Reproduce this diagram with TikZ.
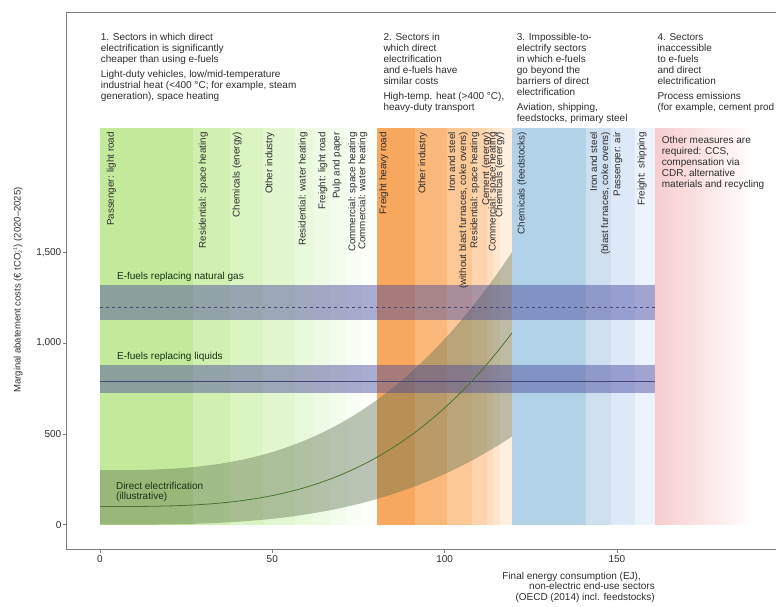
\documentclass[tikz,border=0pt]{standalone}
\usepackage{fontspec}
\setmainfont{Liberation Sans}
\definecolor{gA}{RGB}{194,234,154}
\definecolor{gB}{RGB}{208,240,178}
\definecolor{gC}{RGB}{218,244,194}
\definecolor{gD}{RGB}{226,247,207}
\definecolor{gE}{RGB}{233,249,219}
\definecolor{gF}{RGB}{239,250,229}
\definecolor{gG}{RGB}{244,252,237}
\definecolor{gH}{RGB}{248,253,245}
\definecolor{gI}{RGB}{252,254,250}
\definecolor{oA}{RGB}{248,168,94}
\definecolor{oB}{RGB}{250,185,122}
\definecolor{oC}{RGB}{252,200,150}
\definecolor{oD}{RGB}{253,212,173}
\definecolor{oE}{RGB}{254,221,190}
\definecolor{oF}{RGB}{254,230,206}
\definecolor{oG}{RGB}{255,239,222}
\definecolor{bA}{RGB}{178,211,231}
\definecolor{bB}{RGB}{206,223,240}
\definecolor{bC}{RGB}{221,233,248}
\definecolor{bD}{RGB}{237,243,252}
\definecolor{rA}{RGB}{248,204,206}
\definecolor{bandblue}{RGB}{70,70,155}
\definecolor{bandline}{RGB}{70,70,120}
\definecolor{elecgray}{RGB}{90,110,75}
\definecolor{curvegreen}{RGB}{75,115,50}
\definecolor{txtgray}{RGB}{45,45,45}
\definecolor{axgray}{RGB}{125,125,125}
\tikzset{
  axis/.style={draw=axgray,line width=0.8pt},
  head/.style={anchor=north west,align=left,inner sep=0pt,text=txtgray,font=\fontsize{10}{11}\selectfont},
  sector/.style={rotate=90,anchor=east,align=right,inner sep=0pt,text=txtgray,font=\fontsize{9.8}{11}\selectfont},
  curvelabel/.style={anchor=west,align=left,inner sep=0pt,text=txtgray!80!green!60!black,font=\fontsize{10}{10.5}\selectfont},
  efuelband/.style={fill=bandblue,fill opacity=0.45},
  efuelline/.style={draw=bandline,line width=0.6pt},
  elecband/.style={fill=elecgray,fill opacity=0.4},
  eleccurve/.style={draw=curvegreen,line width=0.8pt}
}
\begin{document}
\begin{tikzpicture}[x=1pt,y=1pt,font=\fontsize{10}{11}\selectfont]
\useasboundingbox (0,0) rectangle (776,606);
\draw[axis] (776,593.3) -- (66.7,593.3) -- (66.7,57) -- (776,57);
\node[head] (grp1) at (100.7,573) {1. Sectors in which direct\\electrification is significantly\\cheaper than using e-fuels\\[4pt]Light-duty vehicles, low/mid-temperature\\industrial heat (<400 °C; for example, steam\\generation), space heating};
\node[head] (grp2) at (383.3,573) {2. Sectors in\\which direct\\electrification\\and e-fuels have\\similar costs\\[4pt]High-temp. heat (>400 °C),\\heavy-duty transport};
\node[head] (grp3) at (516.7,573) {3. Impossible-to-\\electrify sectors\\in which e-fuels\\go beyond the\\barriers of direct\\electrification\\[4pt]Aviation, shipping,\\feedstocks, primary steel};
\node[head] (grp4) at (657.3,573) {4. Sectors\\inaccessible\\to e-fuels\\and direct\\electrification\\[4pt]Process emissions\\(for example, cement prod};
\node[rotate=90,text=txtgray,font=\fontsize{9.5}{11}\selectfont] (ylab) at (18,316) {Marginal abatement costs (€ tCO$_{\mbox{\tiny 2}}^{\mbox{\tiny −1}}$) (2020–2025)};
\node[anchor=north east,align=right,inner sep=0pt,text=txtgray,font=\fontsize{10}{10.3}\selectfont] (xlab) at (655,34) {Final energy consumption (EJ),\hspace*{14pt}\\non-electric end-use sectors\\(OECD (2014) incl. feedstocks)};
\begin{scope}[shift={(100,81.3)},x=3.446pt,y=0.1816pt]
  \foreach \a/\b/\c in {0/27/gA,27/37.7/gB,37.7/47.3/gC,47.3/56.6/gD,56.6/61.9/gE,61.9/66.8/gF,66.8/71.8/gG,71.8/76/gH,76/80.3/gI,
      80.3/91.4/oA,91.4/100.6/oB,100.6/107.9/oC,107.9/112.4/oD,112.4/114/oE,114/116.1/oF,116.1/119.5/oG,
      119.5/141/bA,141/148.2/bB,148.2/155.3/bC,155.3/161.1/bD}
    \fill[\c] (\a,0) rectangle (\b,2184);
  \shade[left color=rA,right color=white] (161.1,0) rectangle (190,2184);
  \fill[elecband] (0,300) -- plot[domain=0.1:119.5,samples=60] (\x,{300+1200*(\x/119.5)^2.85})
    -- plot[domain=119.5:0.1,samples=60] (\x,{485*(\x/119.5)^3.1}) -- (0,0) -- cycle;
  \fill[efuelband] (0,1127) rectangle (161.1,1320);
  \fill[efuelband] (0,723) rectangle (161.1,879);
  \draw[efuelline,dashed] (0,1197) -- (161.1,1197);
  \draw[efuelline] (0,787) -- (161.1,787);
  \draw[eleccurve] plot[domain=0.1:119.5,samples=60] (\x,{100+955*(\x/119.5)^3.17});
  \foreach \y/\t in {0/0,500/500,1000/{1,000},1500/{1,500}}
    \draw[axis] (-9.66,\y) -- ++(-4pt,0) node[left,inner sep=1pt,text=txtgray] (yt\y) {\t};
  \foreach \x in {0,50,100,150}
    \draw[axis] (\x,-133.8) -- ++(0,-4pt) node[below,inner sep=2pt,text=txtgray] (xt\x) {\x};
  \foreach \p/\t [count=\i] in {3.3/Passenger: light road,30/Residential: space heating,39.8/Chemicals (energy),49.3/Other industry,
      58.9/Residential: water heating,64.7/Freight: light road,68.8/Pulp and paper,73.4/Commercial: space heating,76.3/Commercial: water heating,
      82.4/Freight heavy road,93.7/Other industry,103.9/{Iron and steel\\(without blast furnaces, coke ovens)},108.8/Residential: space heating,
      112.2/Cement (energy),114.1/Commercial: space heating,116/Chemicals (energy),122.5/Chemicals (feedstocks),
      145.1/{Iron and steel\\(blast furnaces, coke ovens)},150.3/Passenger: air,157.3/Freight: shipping}
    \node[sector] (sec\i) at (\p,2162) {\t};
  \node[curvelabel] (ngas) at (4.9,1366) {E-fuels replacing natural gas};
  \node[curvelabel] (liq) at (4.9,922) {E-fuels replacing liquids};
  \node[curvelabel] (elec) at (4.6,180) {Direct electrification\\(illustrative)};
\end{scope}
\node[head] (other) at (661.7,470) {Other measures are\\required: CCS,\\compensation via\\CDR, alternative\\materials and recycling};
\end{tikzpicture}
\end{document}
